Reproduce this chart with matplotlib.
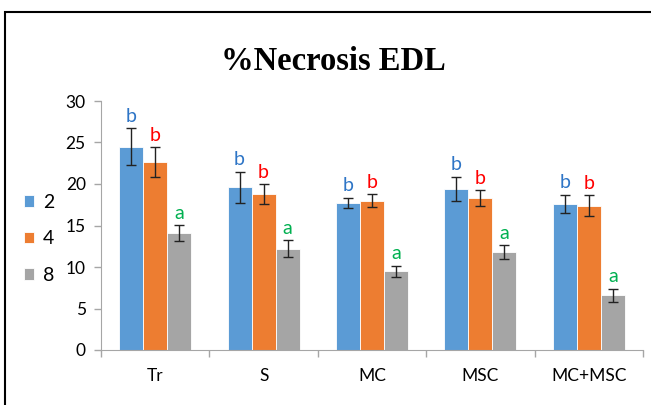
import matplotlib
matplotlib.use("Agg")
import matplotlib.pyplot as plt
import numpy as np
from matplotlib.patches import Rectangle

categories = ["Tr", "S", "MC", "MSC", "MC+MSC"]
series_names = ["2", "4", "8"]
values_2 = [24.5, 19.6, 17.7, 19.4, 17.6]
values_4 = [22.6, 18.8, 18.0, 18.3, 17.4]
values_8 = [14.1, 12.2, 9.5, 11.8, 6.6]
err_2 = [2.25, 1.9, 0.65, 1.5, 1.1]
err_4 = [1.8, 1.2, 0.8, 0.95, 1.25]
err_8 = [0.95, 1.0, 0.65, 0.85, 0.8]
letters = ["b", "b", "a"]
yticks = [0, 5, 10, 15, 20, 25, 30]

bar_colors = ["#5B9BD5", "#ED7D31", "#A5A5A5"]
letter_colors = ["#2E75C6", "#FF0000", "#00B050"]
font = ["Lato", "DejaVu Sans"]

fig = plt.figure(figsize=(6.51, 4.05), dpi=100)
ax = fig.add_axes([101 / 651, 55 / 405, 542 / 651, 249 / 405])

x = np.arange(len(categories))
width = 0.222
all_vals = [values_2, values_4, values_8]
all_errs = [err_2, err_4, err_8]
for i, (vals, errs) in enumerate(zip(all_vals, all_errs)):
    pos = x + (i - 1) * width
    ax.bar(pos, vals, width, color=bar_colors[i], edgecolor="white", linewidth=0.6,
           label=series_names[i], zorder=2)
    ax.errorbar(pos, vals, yerr=errs, fmt="none", ecolor="#222222", elinewidth=1,
                capsize=3.5, capthick=1, zorder=3)
    for p, v, e in zip(pos, vals, errs):
        ax.text(p, v + e + 0.4, letters[i], ha="center", va="bottom", fontsize=14,
                color=letter_colors[i], family=font)

ax.set_xlim(-0.5, len(categories) - 0.5)
ax.set_ylim(0, 30)
ax.set_yticks(yticks)
ax.set_yticklabels([str(t) for t in yticks], family=font, fontsize=12.5)
ax.set_xticks(x)
ax.set_xticklabels(categories, family=font, fontsize=12.5)
ax.set_xticks(np.arange(len(categories) + 1) - 0.5, minor=True)
ax.tick_params(axis="x", which="major", length=0, pad=13)
ax.tick_params(axis="x", which="minor", length=5, color="#A6A6A6", width=1)
ax.tick_params(axis="y", length=5, color="#A6A6A6", width=1, pad=6)

for side in ["top", "right"]:
    ax.spines[side].set_visible(False)
ax.spines["left"].set_color("#A6A6A6")
ax.spines["bottom"].set_color("#A6A6A6")

fig.text(333 / 651, 343 / 405, "%Necrosis EDL", ha="center", va="center",
         fontsize=23.5, fontweight="bold", family="Liberation Serif")

handles, labels = ax.get_legend_handles_labels()
leg = fig.legend(handles, labels, loc="center left", bbox_to_anchor=(6 / 651, 166 / 405),
                 frameon=False, prop={"family": font, "size": 14}, handlelength=0.55,
                 handleheight=0.55, labelspacing=1.0, handletextpad=0.45)

fig.patches.append(Rectangle((5 / 651, -0.1), 1.2, (405 - 12) / 405 + 0.1,
                             transform=fig.transFigure, fill=False,
                             edgecolor="black", linewidth=1.5))

fig.savefig("out.png", dpi=100)
